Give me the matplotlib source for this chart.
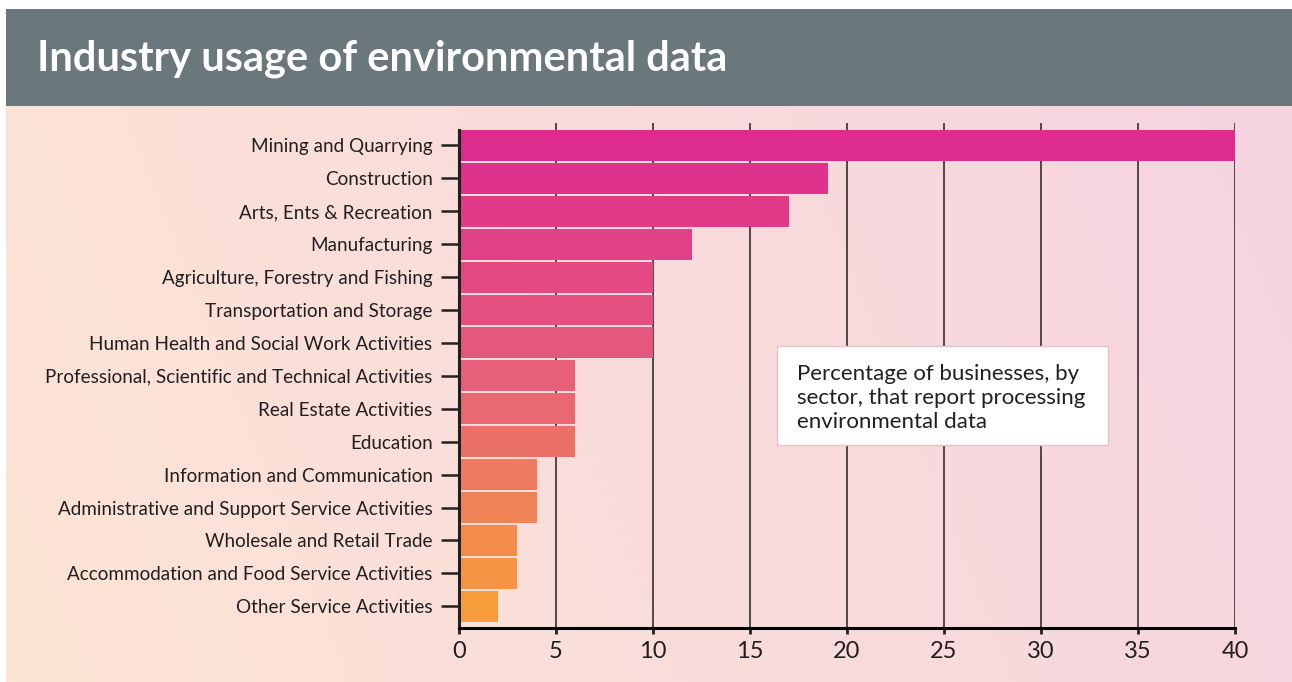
import numpy as np
import matplotlib.pyplot as plt
from matplotlib.colors import LinearSegmentedColormap
from matplotlib.patches import Rectangle

plt.rcParams['font.family'] = ['Lato', 'DejaVu Sans']

# ---- data ----
sectors = [
    "Mining and Quarrying",
    "Construction",
    "Arts, Ents & Recreation",
    "Manufacturing",
    "Agriculture, Forestry and Fishing",
    "Transportation and Storage",
    "Human Health and Social Work Activities",
    "Professional, Scientific and Technical Activities",
    "Real Estate Activities",
    "Education",
    "Information and Communication",
    "Administrative and Support Service Activities",
    "Wholesale and Retail Trade",
    "Accommodation and Food Service Activities",
    "Other Service Activities",
]
percent = [40, 19, 17, 12, 10, 10, 10, 6, 6, 6, 4, 4, 3, 3, 2]
x_ticks = [0, 5, 10, 15, 20, 25, 30, 35, 40]

title = "Industry usage of environmental data"
note = "Percentage of businesses, by\nsector, that report processing\nenvironmental data"

W, H = 1292, 682
DARK = '#231F20'

fig = plt.figure(figsize=(W / 100, H / 100), dpi=100)
fig.patch.set_facecolor('white')

# background gradient panel
bg = fig.add_axes([6 / W, 0, 1 - 6 / W, (H - 106) / H], zorder=0)
bg_cmap = LinearSegmentedColormap.from_list('bg', ['#FDE5D5', '#F9DCDB', '#F6D4E0'])
gx, gy = np.meshgrid(np.linspace(0, 1, 400), np.linspace(0, 1, 200))
grad = 0.85 * gx + 0.15 * gy
bg.imshow(grad, cmap=bg_cmap, aspect='auto', origin='lower', extent=[0, 1, 0, 1], vmin=0, vmax=1)
bg.set_axis_off()

# header band
fig.patches.append(Rectangle((6 / W, (H - 106) / H), 1 - 6 / W, 97 / H,
                             transform=fig.transFigure, facecolor='#6A777B',
                             edgecolor='none', zorder=1))
fig.text(37 / W, (H - 71) / H, title, color='white', fontsize=30,
         fontweight='bold', va='baseline', ha='left', zorder=2)

# main chart
ax = fig.add_axes([459 / W, (H - 628) / H, (1235 - 459) / W, (628 - 123) / H], zorder=2)
ax.set_facecolor('none')

bar_cmap = LinearSegmentedColormap.from_list('bars', ['#DE2B8E', '#E6607A', '#F79C3A'])
colors = [bar_cmap(i / (len(sectors) - 1)) for i in range(len(sectors))]
ypos = np.arange(len(sectors))
ax.barh(ypos, percent, height=0.94, color=colors, zorder=2)

ax.set_xlim(0, 40)
ax.set_ylim(len(sectors) - 1 + 0.66, -0.68)
ax.set_xticks(x_ticks)
ax.set_xticklabels([str(t) for t in x_ticks])
ax.set_yticks(ypos)
ax.set_yticklabels(sectors)

for t in x_ticks[1:]:
    ax.axvline(t, color=DARK, lw=1.1, zorder=1)

for s in ['top', 'right']:
    ax.spines[s].set_visible(False)
ax.spines['left'].set_linewidth(2.2)
ax.spines['bottom'].set_linewidth(2.2)
ax.spines['left'].set_color(DARK)
ax.spines['bottom'].set_color('black')
ax.spines['left'].set_bounds(len(sectors) - 1 + 0.66, -0.47)

ax.tick_params(axis='y', length=13, width=1.8, color=DARK, pad=6,
               labelsize=13.6, labelcolor=DARK)
ax.tick_params(axis='x', length=4, width=2, color=DARK, pad=5,
               labelsize=17, labelcolor=DARK)

# note box
ax.add_patch(Rectangle((16.39, 6.1), 17.06, 3.01, facecolor='white',
                       edgecolor='#E2C3C8', linewidth=1, zorder=4))
ax.text(17.42, 7.68, note, fontsize=16, color=DARK, va='center', ha='left',
        linespacing=1.25, zorder=5)

fig.savefig('out.png', dpi=100)
